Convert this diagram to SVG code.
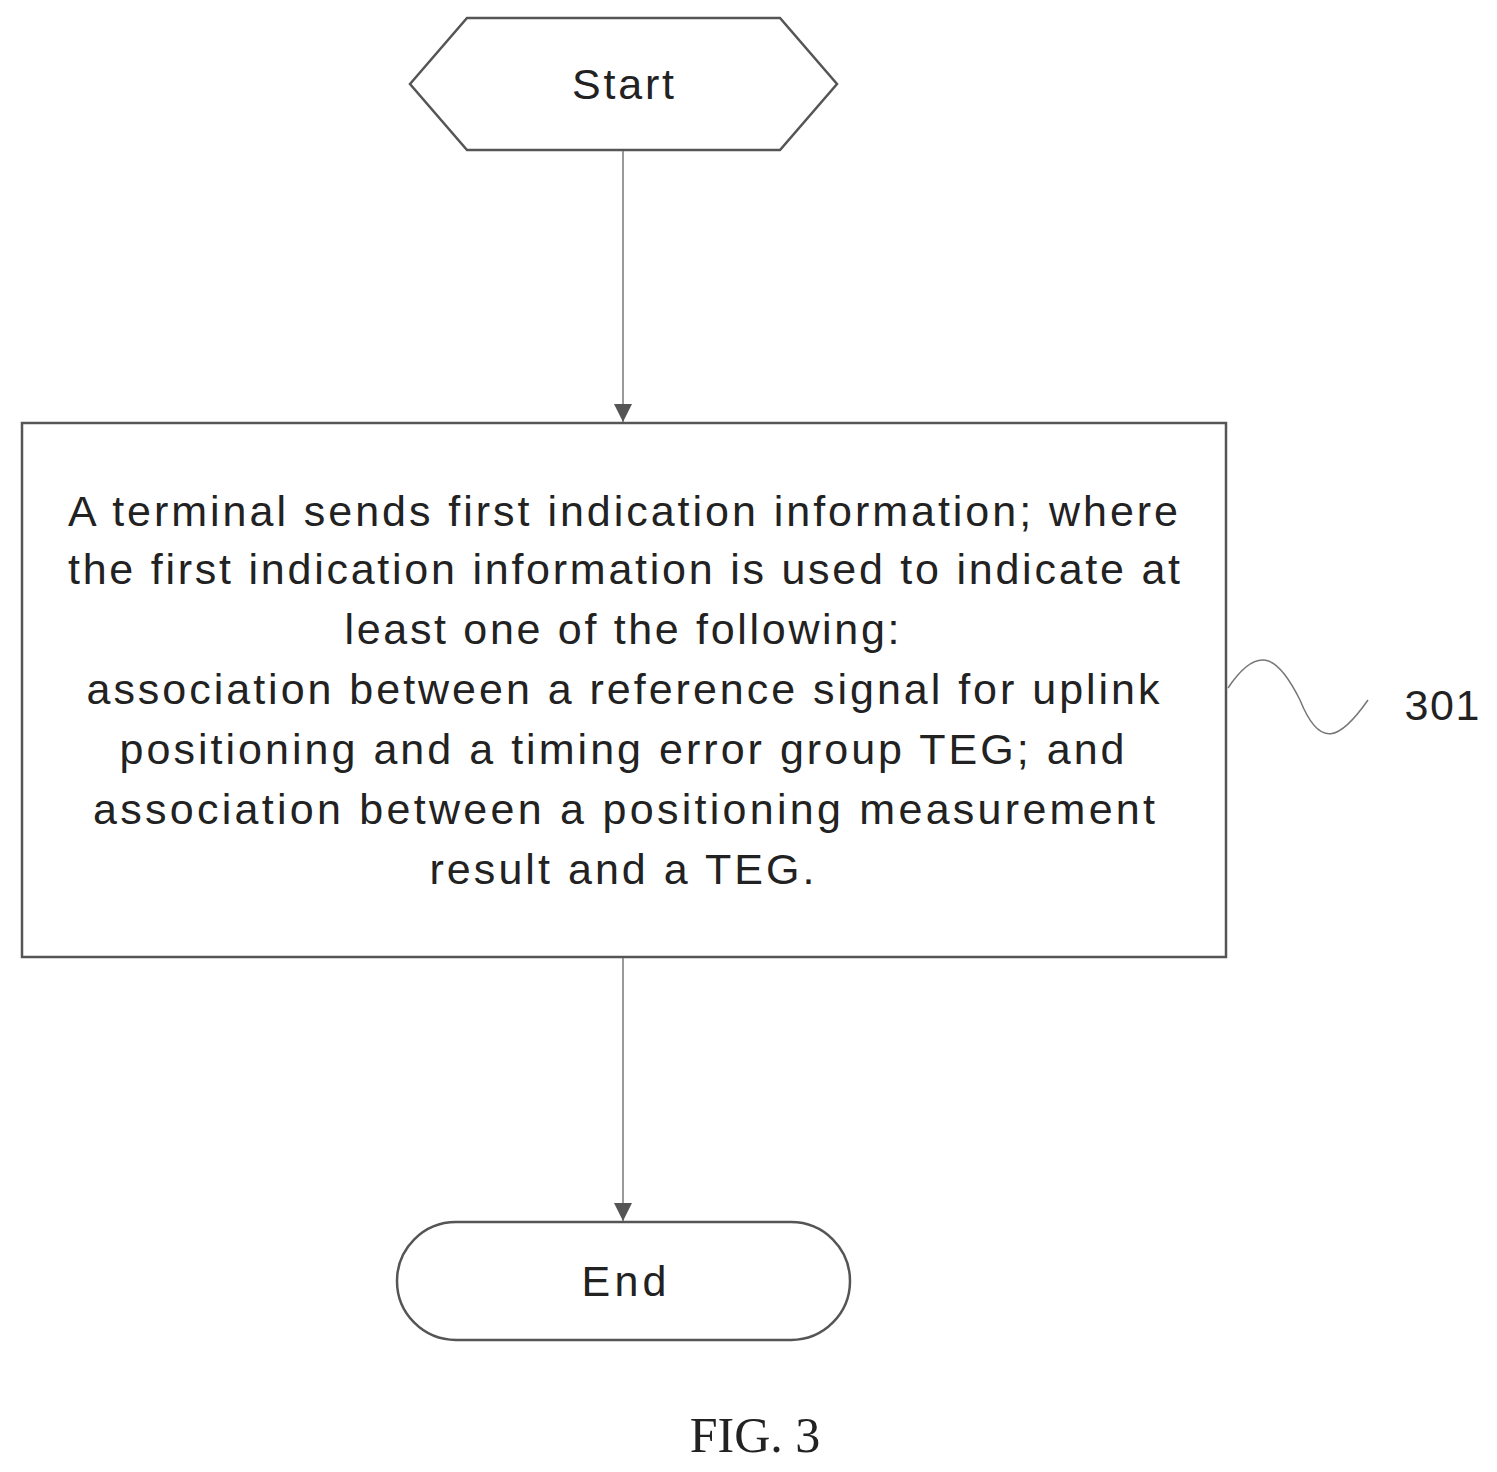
<svg xmlns="http://www.w3.org/2000/svg" width="1497" height="1472" viewBox="0 0 1497 1472">
<style>
.s{fill:#fff;stroke:#555;stroke-width:2.5}
.t{font-family:"Liberation Sans",Arial,sans-serif;font-size:43px;fill:#222;text-anchor:middle}
.c{stroke:#777;stroke-width:1.5;fill:none}
</style>
<defs><marker id="a" markerWidth="18" markerHeight="18" refX="16" refY="8" orient="auto" markerUnits="userSpaceOnUse" viewBox="0 0 16 16"><path d="M0,0L16,8L0,16z" fill="#555"/></marker></defs>
<rect width="1497" height="1472" fill="#fff"/>
<g id="start"><polygon class="s" points="410,84 467,18 780,18 837,84 780,150 467,150"/><text class="t" x="623" y="99" textLength="102" lengthAdjust="spacing">Start</text></g>
<g id="step301"><rect class="s" x="22" y="423" width="1204" height="534"/>
<text class="t" x="623" y="526" textLength="1110" lengthAdjust="spacing">A terminal sends first indication information; where</text>
<text class="t" x="624" y="584" textLength="1112" lengthAdjust="spacing">the first indication information is used to indicate at</text>
<text class="t" x="622" y="644" textLength="555" lengthAdjust="spacing">least one of the following:</text>
<text class="t" x="623" y="704" textLength="1073" lengthAdjust="spacing">association between a reference signal for uplink</text>
<text class="t" x="622" y="764" textLength="1005" lengthAdjust="spacing">positioning and a timing error group TEG; and</text>
<text class="t" x="624" y="824" textLength="1062" lengthAdjust="spacing">association between a positioning measurement</text>
<text class="t" x="622" y="884" textLength="385" lengthAdjust="spacing">result and a TEG.</text></g>
<g id="label301"><path class="c" d="M1228,688 C1260,640 1280,660 1300,700 C1320,750 1340,740 1368,700" stroke="#333"/><text class="t" x="1442" y="720" textLength="75" lengthAdjust="spacing">301</text></g>
<g id="end"><rect class="s" x="397" y="1222" width="453" height="118" rx="59"/><text class="t" x="624" y="1296" textLength="85" lengthAdjust="spacing">End</text></g>
<g id="connectors"><line class="c" x1="623" y1="151" x2="623" y2="422" marker-end="url(#a)"/><line class="c" x1="623" y1="958" x2="623" y2="1221" marker-end="url(#a)"/></g>
<text x="755" y="1452" font-family="Liberation Serif,serif" font-size="50" fill="#222" text-anchor="middle">FIG. 3</text>
</svg>
